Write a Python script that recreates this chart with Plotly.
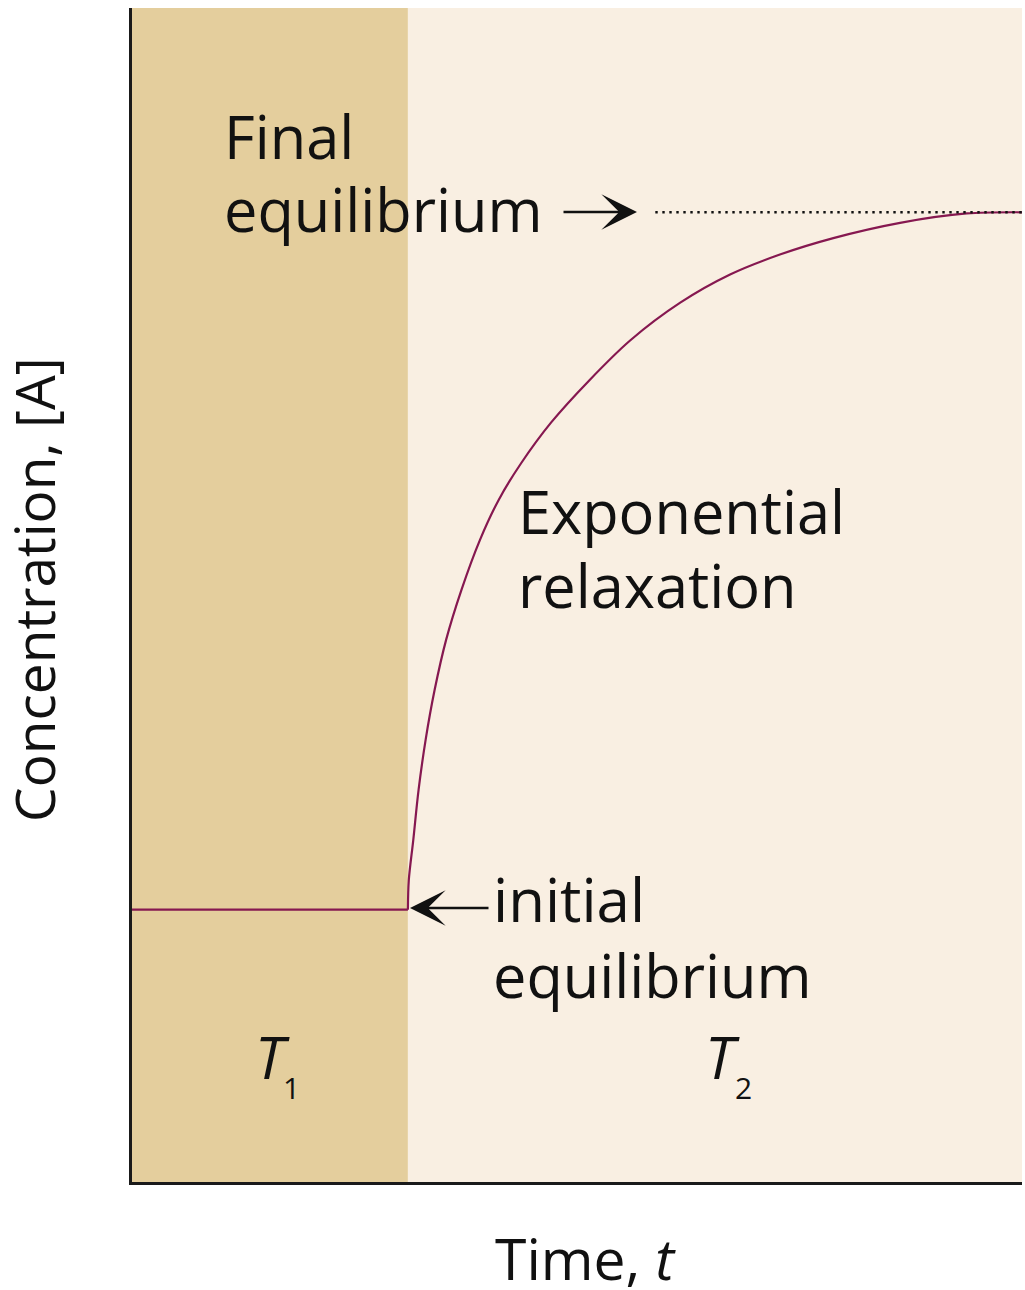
import plotly.graph_objects as go

# ---------------- data ----------------
region_bounds = [0.0, 3.1, 10.0]          # time: T1 region, then T2 region
region_names = ["<i>T</i>", "<i>T</i>"]
region_subs = ["1", "2"]

initial_t = [0.0, 3.1]
initial_c = [2.32, 2.32]

relax_t = [3.10, 3.11, 3.16, 3.22, 3.30, 3.40, 3.53, 3.70, 3.91, 4.12,
           4.37, 4.71, 5.14, 5.60, 6.16, 6.72, 7.28, 7.88, 8.63, 9.38, 10.0]
relax_c = [2.32, 2.57, 2.91, 3.34, 3.77, 4.19, 4.62, 5.04, 5.47, 5.81,
           6.12, 6.47, 6.83, 7.17, 7.49, 7.73, 7.90, 8.04, 8.17, 8.25, 8.26]

final_eq_t = [5.88, 10.0]
final_eq_c = [8.26, 8.26]

x_title = "Time, <i>t</i>"
y_title = "Concentration, [A]"

# ---------------- layout helpers ----------------
W, H = 1025, 1290
L, R, T, B = 132, 1022, 8, 1182   # plot area in pixels

def xp(px):
    return (px - L) / (R - L)

def yp(py):
    return (B - py) / (B - T)

FONT = "Open Sans"
TAN = "#E4CE9D"
CREAM = "#F9EFE2"
CURVE = "#861850"
INK = "#111111"

fig = go.Figure()

fig.add_trace(go.Scatter(x=initial_t, y=initial_c, mode="lines",
                         line=dict(color=CURVE, width=2.2), hoverinfo="skip"))
fig.add_trace(go.Scatter(x=relax_t, y=relax_c, mode="lines",
                         line=dict(color=CURVE, width=2.2, shape="spline", smoothing=0.9),
                         hoverinfo="skip"))
fig.add_trace(go.Scatter(x=final_eq_t, y=final_eq_c, mode="lines",
                         line=dict(color=INK, width=2.4, dash="2.4px,4.6px"), hoverinfo="skip"))

# background regions
fills = [TAN, CREAM]
for i in range(2):
    fig.add_shape(type="rect", xref="x", yref="paper",
                  x0=region_bounds[i], x1=region_bounds[i + 1], y0=0, y1=1,
                  fillcolor=fills[i], line=dict(width=0), layer="below")

ann = []
def text(s, px, py, size, xanchor="left", yanchor="middle", angle=0):
    ann.append(dict(text=s, xref="paper", yref="paper", x=xp(px), y=yp(py),
                    xanchor=xanchor, yanchor=yanchor, showarrow=False,
                    textangle=angle, align="left",
                    font=dict(family=FONT, size=size, color=INK)))

text("Final", 222, 135, 59.5)
text("equilibrium", 222, 209, 59.5)
text("Exponential", 516, 510, 59.5)
text("relaxation", 516, 584, 59.5)
text("initial", 491, 899, 60)
text("equilibrium", 491, 974, 59.5)
text(region_names[0], 272, 1056, 59, xanchor="center")
text(region_subs[0], 291, 1087, 30, xanchor="center")
text(region_names[1], 722, 1056, 59, xanchor="center")
text(region_subs[1], 743, 1087, 30, xanchor="center")
text(x_title, 585, 1258, 57, xanchor="center")
text(y_title, 33, 590, 55, xanchor="center", angle=-90)

# arrows
ann.append(dict(text="", xref="paper", yref="paper", x=xp(637), y=yp(212),
                ax=-75, ay=0, showarrow=True, arrowhead=3, arrowsize=2.2,
                arrowwidth=2.7, arrowcolor=INK))
ann.append(dict(text="", xref="paper", yref="paper", x=xp(410), y=yp(908),
                ax=80, ay=0, showarrow=True, arrowhead=3, arrowsize=2.2,
                arrowwidth=2.7, arrowcolor=INK))

fig.update_layout(
    width=W, height=H,
    margin=dict(l=L, r=W - R, t=T, b=H - B),
    paper_bgcolor="white", plot_bgcolor=CREAM,
    showlegend=False,
    annotations=ann,
    xaxis=dict(range=[0, 10], showgrid=False, zeroline=False, showticklabels=False,
               ticks="", showline=True, linecolor="#1a1a1a", linewidth=3, fixedrange=True),
    yaxis=dict(range=[0, 10], showgrid=False, zeroline=False, showticklabels=False,
               ticks="", showline=True, linecolor="#1a1a1a", linewidth=3, fixedrange=True),
)

fig.write_html("out.html", config={"displayModeBar": False},
               post_script="document.body.style.margin='0';document.body.style.overflow='hidden';")
